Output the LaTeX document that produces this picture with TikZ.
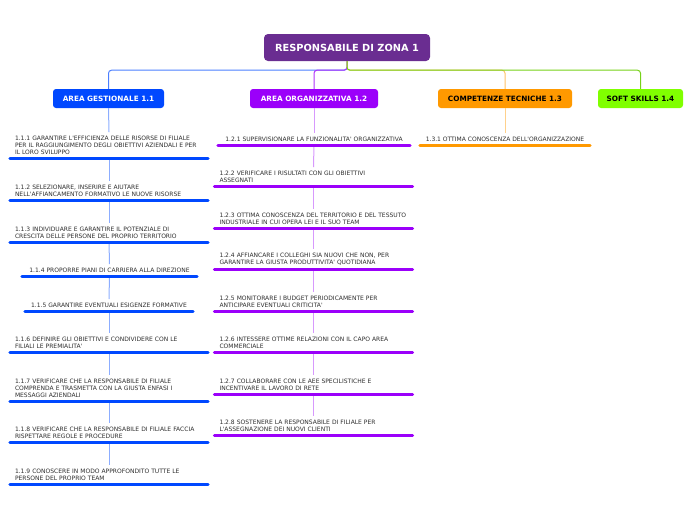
\documentclass[tikz,border=0pt]{standalone}
\usepackage{fontspec}
\newfontfamily\dvs{DejaVu Sans}
\definecolor{rootc}{RGB}{106,45,145}
\definecolor{bl}{RGB}{0,72,255}
\definecolor{pu}{RGB}{155,0,250}
\definecolor{orc}{RGB}{255,153,0}
\definecolor{li}{RGB}{128,255,0}
\definecolor{txt}{RGB}{45,45,45}
\tikzset{
  rootbox/.style={fill=rootc, rounded corners=4pt, text=white, font=\dvs\bfseries\fontsize{9.8}{11}\selectfont, minimum width=166pt, minimum height=27pt, inner sep=0pt},
  area/.style={rounded corners=3pt, font=\dvs\bfseries\fontsize{7.3}{8}\selectfont, minimum height=19pt, inner sep=0pt},
  item/.style={font=\dvs\fontsize{6}{7}\selectfont, text=txt, align=left, text width=188pt, inner xsep=5pt, inner ysep=3.5pt, anchor=south},
  citem/.style={font=\dvs\fontsize{6}{7}\selectfont, text=txt, align=center, inner xsep=0pt, inner ysep=3.5pt, anchor=south},
  bar/.style={line width=3pt, line cap=round},
  rootlink/.style={line width=1pt, rounded corners=3pt},
  sublink/.style={line width=1pt}
}
\begin{document}
\begin{tikzpicture}[x=1pt,y=-1pt]
\useasboundingbox (0,0) rectangle (696,520);
\node[rootbox] (root) at (347,47.5) {RESPONSABILE DI ZONA 1};
\node[area, fill=bl, text=white, minimum width=111pt] (a11) at (108.5,98.5) {AREA GESTIONALE 1.1};
\node[area, fill=pu, text=white, minimum width=128pt] (a12) at (314,98.5) {AREA ORGANIZZATIVA 1.2};
\node[area, fill=orc, text=black, minimum width=134pt] (a13) at (505,98.5) {COMPETENZE TECNICHE 1.3};
\node[area, fill=li, text=black, minimum width=85pt] (a14) at (640.5,98.5) {SOFT SKILLS 1.4};

\draw[rootlink, bl!70] (root.south) -- ++(0,9) -| (a11.north);
\draw[rootlink, pu!80] (root.south) -- ++(0,9) -| (a12.north);
\draw[rootlink, orc!60] (root.south) -- ++(0,9) -| (a13.north);
\draw[rootlink, li!80!black!90] (root.south) -- ++(0,9) -| (a14.north);

% column 1
\node[item] (i111) at (109,158) {1.1.1 GARANTIRE L'EFFICIENZA DELLE RISORSE DI FILIALE\\PER IL RAGGIUNGIMENTO DEGLI OBIETTIVI AZIENDALI E PER\\IL LORO SVILUPPO};
\node[item] (i112) at (109,200) {1.1.2 SELEZIONARE, INSERIRE E AIUTARE\\NELL'AFFIANCAMENTO FORMATIVO LE NUOVE RISORSE};
\node[item] (i113) at (109,242) {1.1.3 INDIVIDUARE E GARANTIRE IL POTENZIALE DI\\CRESCITA DELLE PERSONE DEL PROPRIO TERRITORIO};
\node[citem, minimum width=175pt] (i114) at (109.5,276) {1.1.4 PROPORRE PIANI DI CARRIERA ALLA DIREZIONE};
\node[citem, minimum width=168pt] (i115) at (109,311) {1.1.5 GARANTIRE EVENTUALI ESIGENZE FORMATIVE};
\node[item] (i116) at (109,352) {1.1.6 DEFINIRE GLI OBIETTIVI E CONDIVIDERE CON LE\\FILIALI LE PREMIALITA'};
\node[item] (i117) at (109,401) {1.1.7 VERIFICARE CHE LA RESPONSABILE DI FILIALE\\COMPRENDA E TRASMETTA CON LA GIUSTA ENFASI I\\MESSAGGI AZIENDALI};
\node[item] (i118) at (109,442) {1.1.8 VERIFICARE CHE LA RESPONSABILE DI FILIALE FACCIA\\RISPETTARE REGOLE E PROCEDURE};
\node[item] (i119) at (109,484) {1.1.9 CONOSCERE IN MODO APPROFONDITO TUTTE LE\\PERSONE DEL PROPRIO TEAM};

\draw[sublink, bl!45] (a11.south) -- (i111.north);
\foreach \a/\b in {i111/i112,i112/i113,i113/i114,i114/i115,i115/i116,i116/i117,i117/i118,i118/i119}
  \draw[sublink, bl!45] (\a.south) -- (\b.north);
\foreach \n in {i111,i112,i113,i114,i115,i116,i117,i118,i119}
  \draw[bar, bl] (\n.south west) -- (\n.south east);

% column 2
\node[citem, minimum width=192pt] (i121) at (314,145) {1.2.1 SUPERVISIONARE LA FUNZIONALITA' ORGANIZZATIVA};
\node[item] (i122) at (313.5,186) {1.2.2 VERIFICARE I RISULTATI CON GLI OBIETTIVI\\ASSEGNATI};
\node[item] (i123) at (313.5,228) {1.2.3 OTTIMA CONOSCENZA DEL TERRITORIO E DEL TESSUTO\\INDUSTRIALE IN CUI OPERA LEI E IL SUO TEAM};
\node[item] (i124) at (313.5,269) {1.2.4 AFFIANCARE I COLLEGHI SIA NUOVI CHE NON, PER\\GARANTIRE LA GIUSTA PRODUTTIVITA' QUOTIDIANA};
\node[item] (i125) at (313.5,311) {1.2.5 MONITORARE I BUDGET PERIODICAMENTE PER\\ANTICIPARE EVENTUALI CRITICITA'};
\node[item] (i126) at (313.5,352) {1.2.6 INTESSERE OTTIME RELAZIONI CON IL CAPO AREA\\COMMERCIALE};
\node[item] (i127) at (313.5,394) {1.2.7 COLLABORARE CON LE AEE SPECILISTICHE E\\INCENTIVARE IL LAVORO DI RETE};
\node[item] (i128) at (313.5,435) {1.2.8 SOSTENERE LA RESPONSABILE DI FILIALE PER\\L'ASSEGNAZIONE DEI NUOVI CLIENTI};

\draw[sublink, pu!40] (a12.south) -- (i121.north);
\foreach \a/\b in {i121/i122,i122/i123,i123/i124,i124/i125,i125/i126,i126/i127,i127/i128}
  \draw[sublink, pu!40] (\a.south) -- (\b.north);
\foreach \n in {i121,i122,i123,i124,i125,i126,i127,i128}
  \draw[bar, pu] (\n.south west) -- (\n.south east);

% column 3
\node[citem, minimum width=170pt] (i131) at (505,145) {1.3.1 OTTIMA CONOSCENZA DELL'ORGANIZZAZIONE};
\draw[sublink, orc!45] (a13.south) -- (i131.north);
\draw[bar, orc] (i131.south west) -- (i131.south east);
\end{tikzpicture}
\end{document}
